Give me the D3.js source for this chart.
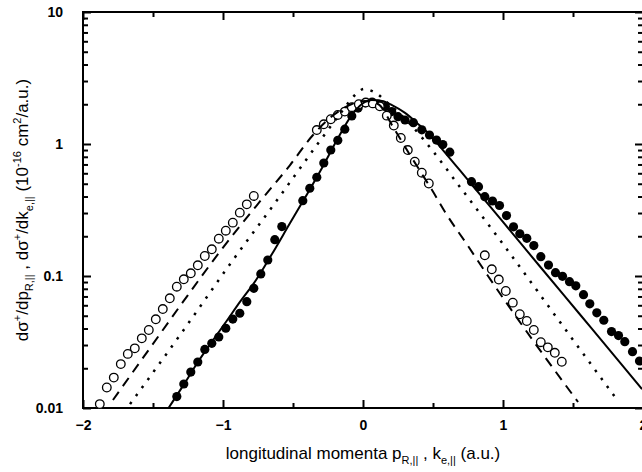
<!DOCTYPE html>
<html>
<head>
<meta charset="utf-8">
<script src="https://cdn.jsdelivr.net/npm/d3@7"></script>
<style>
  html, body { margin: 0; padding: 0; background: #fff; }
  svg { display: block; }
  text { font-family: "Liberation Sans", Arial, sans-serif; fill: #000; }
</style>
</head>
<body>
<svg id="chart" width="642" height="472"></svg>
<script>
// ---- data ----
const openX = [-1.88,-1.83,-1.78,-1.73,-1.68,-1.63,-1.58,-1.53,-1.48,-1.43,-1.38,-1.33,-1.28,-1.23,-1.18,-1.13,-1.08,-1.03,-0.98,-0.93,-0.88,-0.83,-0.78,
  -0.33,-0.28,-0.23,-0.18,-0.13,-0.08,-0.03,0.02,0.07,0.12,0.17,0.22,0.27,0.32,0.37,0.42,0.47,
  0.87,0.92,0.97,1.02,1.07,1.12,1.17,1.22,1.27,1.32,1.37,1.42];
const openY = [0.0107,0.0143,0.0170,0.0215,0.0257,0.0283,0.0337,0.0390,0.0470,0.0562,0.0678,0.0830,0.0944,0.1048,0.1205,0.1418,0.1593,0.1917,0.2204,0.2535,0.302,0.349,0.404,
  1.276,1.41,1.54,1.66,1.76,1.90,2.00,2.06,2.03,1.93,1.64,1.38,1.11,0.90,0.734,0.606,0.502,
  0.1435,0.1124,0.094,0.077,0.0628,0.0513,0.0456,0.039,0.0315,0.0288,0.0262,0.0224];

const filledX = [-1.33,-1.28,-1.23,-1.18,-1.13,-1.08,-1.03,-0.98,-0.93,-0.88,-0.83,-0.78,-0.73,-0.68,-0.63,-0.58,
  -0.43,-0.38,-0.33,-0.28,-0.23,-0.18,-0.13,-0.08,-0.035,0.015,0.065,0.11,0.16,0.205,0.25,0.30,0.36,0.42,0.475,0.525,0.57,0.62,
  0.775,0.825,0.87,0.925,0.975,1.025,1.075,1.12,1.17,1.22,1.27,1.325,1.375,1.425,1.475,1.52,1.575,1.62,1.67,1.72,1.775,1.825,1.87,1.925,1.975];
const filledY = [0.0122,0.0152,0.0187,0.0223,0.0278,0.0309,0.0345,0.0402,0.0472,0.0522,0.0639,0.0807,0.1036,0.1322,0.1884,0.237,
  0.372,0.462,0.560,0.718,0.901,1.067,1.294,1.63,1.87,2.05,2.08,2.01,1.92,1.76,1.61,1.52,1.45,1.28,1.17,1.07,0.99,0.867,
  0.518,0.475,0.399,0.370,0.342,0.287,0.236,0.209,0.193,0.170,0.140,0.121,0.106,0.0995,0.0905,0.0843,0.0722,0.0616,0.0526,0.0462,0.0379,0.0354,0.0318,0.0267,0.0227];

const solidX = [-1.389,-1.286,-1.179,-1.071,-0.979,-0.879,-0.764,-0.65,-0.521,-0.407,-0.293,-0.186,-0.079,-0.007,0.064,0.136,0.207,0.30,0.393,0.479,0.571,0.764,0.979,1.264,1.55,1.836,1.993];
const solidY = [0.01,0.0147,0.0223,0.0327,0.0448,0.0636,0.0932,0.1468,0.252,0.404,0.658,1.072,1.66,2.01,2.15,2.12,1.97,1.72,1.42,1.17,0.90,0.511,0.273,0.118,0.0511,0.0221,0.0139];

const dashedX = [-1.786,-1.521,-1.286,-1.014,-0.757,-0.521,-0.357,-0.2,-0.079,0.014,0.107,0.214,0.314,0.421,0.493,0.586,0.75,0.893,1.207,1.536];
const dashedY = [0.0115,0.0285,0.0636,0.157,0.345,0.693,1.17,1.69,2.01,2.12,2.01,1.35,0.90,0.593,0.448,0.305,0.169,0.100,0.0333,0.0111];

const dottedX = [-1.664,-1.307,-0.929,-0.629,-0.329,-0.164,-0.057,0.007,0.079,0.193,0.336,0.493,0.693,0.979,1.407,1.821];
const dottedY = [0.0107,0.0357,0.132,0.357,0.983,1.69,2.35,2.61,2.48,1.97,1.42,0.90,0.472,0.187,0.0448,0.0113];

const xMajorTicks = [-2,-1,0,1,2];
const xMinorTicks = [-1.5,-0.5,0.5,1.5];
const yMajorTicks = [0.01,0.1,1,10];
const yTickLabels = ["0.01","0.1","1","10"];

// ---- layout ----
const svg = d3.select("#chart");
const L = 83, R = 643, T = 12, B = 408;
const x = d3.scaleLinear().domain([-2,2]).range([L,R]);
const y = d3.scaleLog().domain([0.01,10]).range([B,T]);

const yMinor = y.ticks().filter(v => !yMajorTicks.some(m => Math.abs(m - v) < 1e-9));

// ---- axes ----
const axisStyle = g => {
  g.select(".domain").remove();
  g.selectAll(".tick line").attr("stroke","#000").attr("stroke-width",2);
};

// bottom
svg.append("g").attr("transform",`translate(0,${B})`)
  .call(d3.axisBottom(x).tickValues(xMajorTicks).tickSizeInner(-8).tickSizeOuter(0).tickPadding(12)
    .tickFormat(d3.format("d")))
  .call(axisStyle)
  .call(g => g.selectAll(".tick text").attr("font-size",14).attr("font-weight","bold").attr("dy","0.71em"));
svg.append("g").attr("transform",`translate(0,${B})`)
  .call(d3.axisBottom(x).tickValues(xMinorTicks).tickSizeInner(-5).tickSizeOuter(0).tickFormat(""))
  .call(axisStyle);
// top
svg.append("g").attr("transform",`translate(0,${T})`)
  .call(d3.axisTop(x).tickValues(xMajorTicks).tickSizeInner(-8).tickSizeOuter(0).tickFormat(""))
  .call(axisStyle);
svg.append("g").attr("transform",`translate(0,${T})`)
  .call(d3.axisTop(x).tickValues(xMinorTicks).tickSizeInner(-5).tickSizeOuter(0).tickFormat(""))
  .call(axisStyle);
// left
svg.append("g").attr("transform",`translate(${L},0)`)
  .call(d3.axisLeft(y).tickValues(yMajorTicks).tickSizeInner(-8).tickSizeOuter(0).tickPadding(20)
    .tickFormat((d,i) => yTickLabels[i]))
  .call(axisStyle)
  .call(g => g.selectAll(".tick text").attr("font-size",14).attr("font-weight","bold"));
svg.append("g").attr("transform",`translate(${L},0)`)
  .call(d3.axisLeft(y).tickValues(yMinor).tickSizeInner(-5).tickSizeOuter(0).tickFormat(""))
  .call(axisStyle);
// right
svg.append("g").attr("transform",`translate(${R},0)`)
  .call(d3.axisRight(y).tickValues(yMajorTicks).tickSizeInner(-8).tickSizeOuter(0).tickFormat(""))
  .call(axisStyle);
svg.append("g").attr("transform",`translate(${R},0)`)
  .call(d3.axisRight(y).tickValues(yMinor).tickSizeInner(-5).tickSizeOuter(0).tickFormat(""))
  .call(axisStyle);

// frame
svg.append("rect").attr("x",L).attr("y",T).attr("width",R-L).attr("height",B-T)
  .attr("fill","none").attr("stroke","#000").attr("stroke-width",2);

// ---- markers ----
const openData = openX.map((v,i) => [v, openY[i]]);
const filledData = filledX.map((v,i) => [v, filledY[i]]);

svg.append("g").selectAll("circle").data(filledData).join("circle")
  .attr("cx", d => x(d[0])).attr("cy", d => y(d[1])).attr("r", 4.6)
  .attr("fill","#000");
svg.append("g").selectAll("circle").data(openData).join("circle")
  .attr("cx", d => x(d[0])).attr("cy", d => y(d[1])).attr("r", 4.3)
  .attr("fill","#fff").attr("stroke","#000").attr("stroke-width",1.3);

// ---- lines ----
const line = d3.line().x(d => x(d[0])).y(d => y(d[1])).curve(d3.curveMonotoneX);
const mk = (xs, ys) => xs.map((v,i) => [v, ys[i]]);

svg.append("path").datum(mk(solidX, solidY)).attr("d", line)
  .attr("fill","none").attr("stroke","#000").attr("stroke-width",2);
svg.append("path").datum(mk(dashedX, dashedY)).attr("d", line)
  .attr("fill","none").attr("stroke","#000").attr("stroke-width",2)
  .attr("stroke-dasharray","10,7");
svg.append("path").datum(mk(dottedX, dottedY)).attr("d", line)
  .attr("fill","none").attr("stroke","#000").attr("stroke-width",2.5)
  .attr("stroke-dasharray","2.5,7.5");

// ---- axis titles ----
const xt = svg.append("text").attr("x", 363).attr("y", 459)
  .attr("text-anchor","middle").attr("font-size",17);
xt.append("tspan").text("longitudinal momenta p");
xt.append("tspan").attr("font-size",11).attr("dy",5).text("R,||");
xt.append("tspan").attr("dy",-5).text(" , k");
xt.append("tspan").attr("font-size",11).attr("dy",5).text("e,||");
xt.append("tspan").attr("dy",-5).text(" (a.u.)");

const yt = svg.append("text").attr("transform","translate(28,210) rotate(-90)")
  .attr("text-anchor","middle").attr("font-size",17);
yt.append("tspan").text("dσ");
yt.append("tspan").attr("font-size",11).attr("dy",-7).text("+");
yt.append("tspan").attr("dy",7).text("/dp");
yt.append("tspan").attr("font-size",11).attr("dy",5).text("R,||");
yt.append("tspan").attr("dy",-5).text("  ,  dσ");
yt.append("tspan").attr("font-size",11).attr("dy",-7).text("+");
yt.append("tspan").attr("dy",7).text("/dk");
yt.append("tspan").attr("font-size",11).attr("dy",5).text("e,||");
yt.append("tspan").attr("dy",-5).text(" (10");
yt.append("tspan").attr("font-size",11).attr("dy",-7).text("-16");
yt.append("tspan").attr("dy",7).text(" cm");
yt.append("tspan").attr("font-size",11).attr("dy",-7).text("2");
yt.append("tspan").attr("dy",7).text("/a.u.)");
</script>
</body>
</html>
